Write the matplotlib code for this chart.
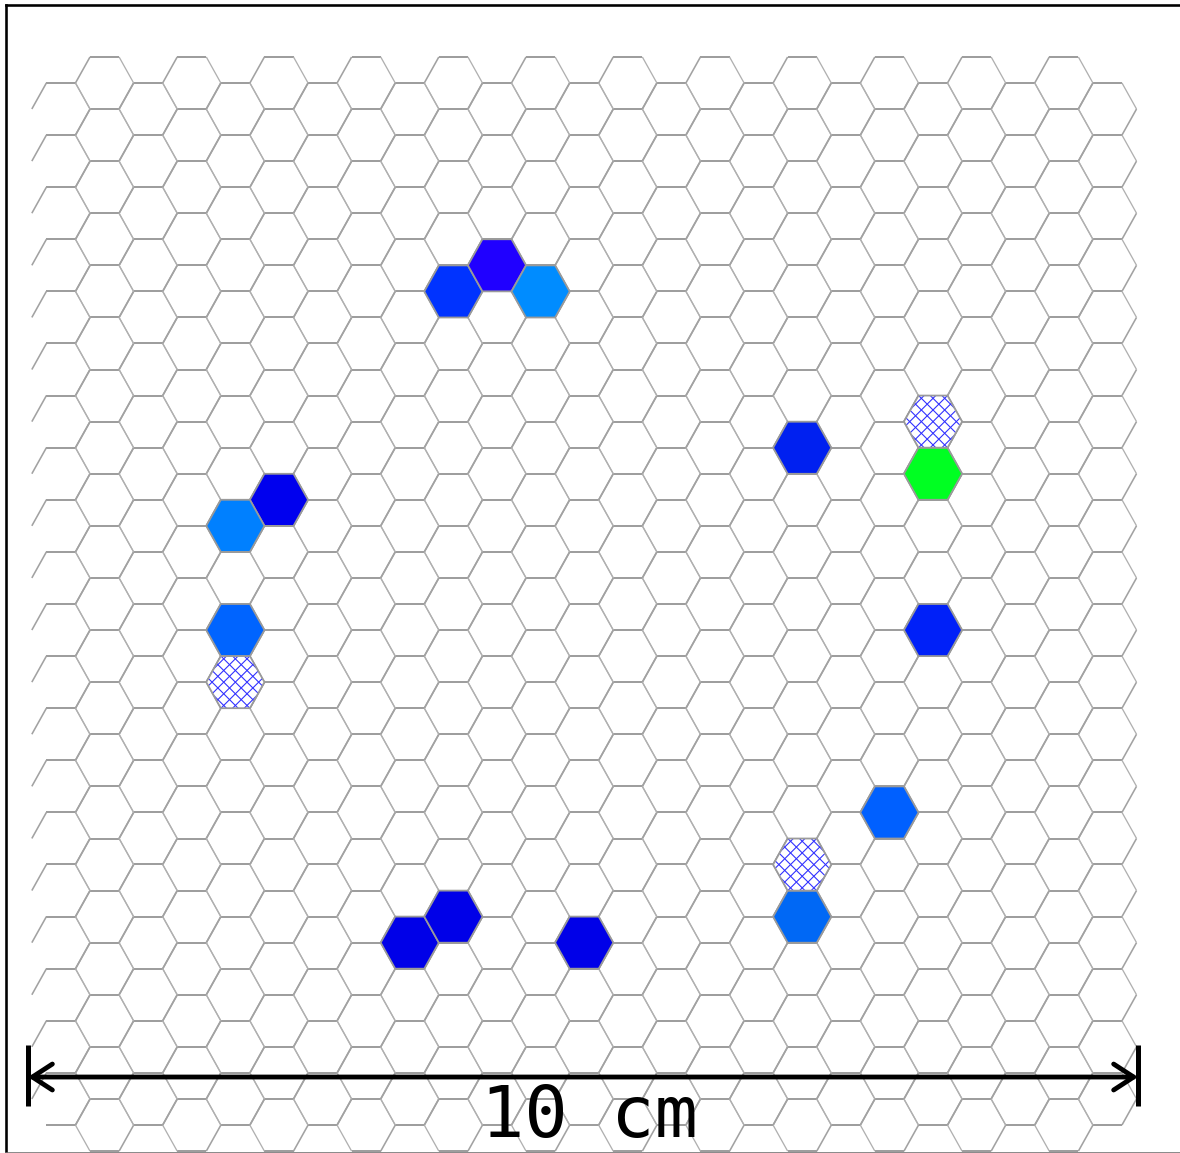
import numpy as np
import matplotlib
matplotlib.use("Agg")
import matplotlib.pyplot as plt
from matplotlib.collections import LineCollection
from matplotlib.patches import Polygon

# hex grid (flat-top), units in cm
n_cols = 25
rows_odd = 21     # odd columns sit half a row higher
rows_even = 20
col_x0, col_dx = 0.297, 0.3928
row_y0_odd, row_y0_even, row_dy = 0.703, 0.937, 0.4694
hex_a, hex_h = 0.2622, 0.2347

# fired cells: column, row, colour
hit_cols = [9, 10, 11, 17, 20, 5, 4, 4, 20, 19, 17, 8, 9, 12]
hit_rows = [4, 3, 4, 7, 7, 8, 8, 10, 10, 14, 16, 16, 16, 16]
hit_colors = ['#0033ff', '#2000ff', '#008cff', '#0020f0', '#00ff22', '#0000ee',
              '#0080ff', '#0064ff', '#0020f8', '#0060ff', '#0068f5',
              '#0000e8', '#0000e8', '#0000e8']
# hatched cells
hatch_cols = [20, 4, 17]
hatch_rows = [6, 11, 15]

scale_len = 10  # cm
scale_label = "10 cm"


def center(k, j):
    cx = col_x0 + col_dx * k
    cy = (row_y0_odd if k % 2 else row_y0_even) + row_dy * j
    return cx, cy


def corners(k, j):
    cx, cy = center(k, j)
    a, h = hex_a, hex_h
    # left, upper-left, upper-right, right, lower-right, lower-left
    return [(cx - a, cy), (cx - a / 2, cy - h), (cx + a / 2, cy - h),
            (cx + a, cy), (cx + a / 2, cy + h), (cx - a / 2, cy + h)]


fig = plt.figure(figsize=(1180 / 72, 1153 / 72), dpi=72)
ax = fig.add_axes([6 / 1180, 1 - 1152.5 / 1153, 1175 / 1180, 1148 / 1153])
ax.set_xlim(-0.198, 10.387)
ax.set_ylim(10.338, -0.0045)
ax.set_xticks([])
ax.set_yticks([])
for s in ax.spines.values():
    s.set_linewidth(2.6)
    s.set_color('black')
ax.spines['right'].set_visible(False)
ax.spines['bottom'].set_color('#707070')

flat, slant_up, slant_down = [], [], []
for k in range(n_cols):
    nrows = rows_odd if k % 2 else rows_even
    for j in range(nrows):
        pts = corners(k, j)
        for e in range(6):
            if k == 0 and e == 5:
                continue  # left column has no lower-left edge
            seg = [pts[e], pts[(e + 1) % 6]]
            if e in (1, 4):
                flat.append(seg)
            elif e in (0, 3):
                slant_up.append(seg)
            else:
                slant_down.append(seg)
ax.add_collection(LineCollection(flat, colors='#9e9e9e', linewidths=2.0, zorder=1))
ax.add_collection(LineCollection(slant_up, colors='#a2a2a2', linewidths=1.6, zorder=1))
ax.add_collection(LineCollection(slant_down, colors='#b0b0b0', linewidths=1.3, zorder=1))

for k, j, c in zip(hit_cols, hit_rows, hit_colors):
    ax.add_patch(Polygon(corners(k, j), closed=True, facecolor=c,
                         edgecolor='#9a9a9a', linewidth=1.8, zorder=2))

hatch_step = 0.105
for k, j in zip(hatch_cols, hatch_rows):
    cx, cy = center(k, j)
    base = Polygon(corners(k, j), closed=True, facecolor='white',
                   edgecolor='none', zorder=2)
    ax.add_patch(base)
    hl = []
    for c in np.arange(-6, 7) * hatch_step:
        hl.append([(cx + c - 0.4, cy - 0.4), (cx + c + 0.4, cy + 0.4)])
        hl.append([(cx + c - 0.4, cy + 0.4), (cx + c + 0.4, cy - 0.4)])
    lc = LineCollection(hl, colors='#3030ff', linewidths=1.1, zorder=2.5)
    ax.add_collection(lc)
    lc.set_clip_path(base)
    ax.add_patch(Polygon(corners(k, j), closed=True, fill=False,
                         edgecolor='#9a9a9a', linewidth=1.8, zorder=3))

# scale bar
bar_y = 9.658
ax.annotate('', xy=(scale_len, bar_y), xytext=(0, bar_y),
            arrowprops=dict(arrowstyle='<->, head_length=1.0, head_width=0.65',
                            color='black', lw=4.8, shrinkA=0, shrinkB=0,
                            mutation_scale=20), zorder=5)
for xe in (0, scale_len):
    ax.plot([xe, xe], [9.369, 9.919], color='black', lw=5, zorder=5,
            solid_capstyle='butt')
ax.text(scale_len / 2 + 0.06, 10.2, scale_label, ha='center', va='baseline',
        fontsize=72, family='DejaVu Sans Mono', zorder=6)

fig.savefig('out.png', dpi=72)
